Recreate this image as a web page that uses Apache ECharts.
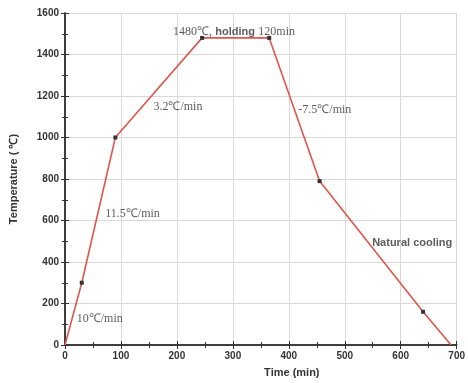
<!DOCTYPE html>
<html><head><meta charset="utf-8">
<script src="https://cdn.jsdelivr.net/npm/echarts@6/dist/echarts.min.js"></script>
<style>html,body{margin:0;padding:0;background:#fff}#c{width:468px;height:383px}</style>
</head><body><div id="c"></div>
<script>
const timeMin = [0, 30, 90, 245, 365, 455, 640, 690];
const tempC = [0, 300, 1000, 1480, 1480, 790, 160, 0];
const markerShown = [false, true, true, true, true, true, true, false];
const xTicks = [0, 100, 200, 300, 400, 500, 600, 700];
const yTicks = [0, 200, 400, 600, 800, 1000, 1200, 1400, 1600];
const noteText = ['1480℃, holding 120min', '3.2℃/min', '-7.5℃/min', '11.5℃/min', '10℃/min', 'Natural cooling'];
const noteX = [193, 158, 417, 72, 21, 549];
const noteY = [1508, 1147, 1133, 633, 124, 493];

const chart = echarts.init(document.getElementById('c'));
const axisLab = {color:'#333', fontFamily:'Liberation Sans', fontWeight:'bold', fontSize:10, formatter: v => String(v)};
const axLine = {lineStyle:{color:'#333', width:1.5}};
chart.setOption({
  animation:false,
  backgroundColor:'#fff',
  grid:{left:62, right:7, top:13, bottom:37, containLabel:false},
  xAxis:[{
    type:'value', min:xTicks[0], max:xTicks[xTicks.length-1], interval:100, position:'bottom',
    axisLine:{show:true, ...axLine},
    axisTick:{show:true, inside:true, length:4, lineStyle:{color:'#333'}},
    minorTick:{show:true, splitNumber:2, length:3, lineStyle:{color:'#333'}},
    splitLine:{show:true, lineStyle:{color:'#d8d8d8', width:1}},
    axisLabel:{...axisLab, margin:6},
    name:'Time (min)', nameLocation:'middle', nameGap:22,
    nameTextStyle:{color:'#333', fontFamily:'Liberation Sans', fontWeight:'bold', fontSize:11, padding:[0,0,0,62]}
  },{
    type:'value', min:xTicks[0], max:xTicks[xTicks.length-1], interval:100, position:'top',
    axisLine:{show:true, ...axLine},
    axisTick:{show:true, inside:true, length:4, lineStyle:{color:'#333'}},
    minorTick:{show:true, splitNumber:2, length:3, lineStyle:{color:'#333'}},
    splitLine:{show:false}, axisLabel:{show:false}
  }],
  yAxis:[{
    type:'value', min:yTicks[0], max:yTicks[yTicks.length-1], interval:200, position:'left',
    axisLine:{show:true, ...axLine},
    axisTick:{show:true, inside:true, length:4, lineStyle:{color:'#333'}},
    minorTick:{show:true, splitNumber:2, length:3, lineStyle:{color:'#333'}},
    splitLine:{show:true, lineStyle:{color:'#d8d8d8', width:1}},
    axisLabel:{...axisLab, margin:6},
    name:'Temperature ( ℃)', nameLocation:'middle', nameGap:46, nameRotate:90,
    nameTextStyle:{color:'#333', fontFamily:'Liberation Sans', fontWeight:'bold', fontSize:11}
  },{
    type:'value', min:yTicks[0], max:yTicks[yTicks.length-1], interval:200, position:'right',
    axisLine:{show:true, ...axLine},
    axisTick:{show:true, inside:true, length:4, lineStyle:{color:'#333'}},
    minorTick:{show:true, splitNumber:2, length:3, lineStyle:{color:'#333'}},
    splitLine:{show:false}, axisLabel:{show:false}
  }],
  series:[{
    type:'line',
    data: timeMin.map((t,i)=>({value:[t, tempC[i]], symbolSize: markerShown[i]?4:0})),
    symbol:'rect', showSymbol:true,
    lineStyle:{color:'#e0554d', width:1.6},
    itemStyle:{color:'#333'},
    z:3
  },{
    type:'scatter', symbolSize:0,
    data: noteText.map((s,i)=>({value:[noteX[i], noteY[i]], name:s})),
    label:{
      show:true, position:'right', distance:0,
      formatter:p=>{
        if (p.name === 'Natural cooling') return '{b|' + p.name + '}';
        if (p.name.indexOf('holding')>=0) return '{s|1480℃,} {b|holding} {s|120min}';
        return '{s|' + p.name + '}';
      },
      rich:{
        s:{fontFamily:'Liberation Serif', fontSize:12, color:'#333'},
        b:{fontFamily:'Liberation Sans', fontWeight:'bold', fontSize:11, color:'#333'}
      }
    },
    z:4
  }]
});
</script></body></html>
